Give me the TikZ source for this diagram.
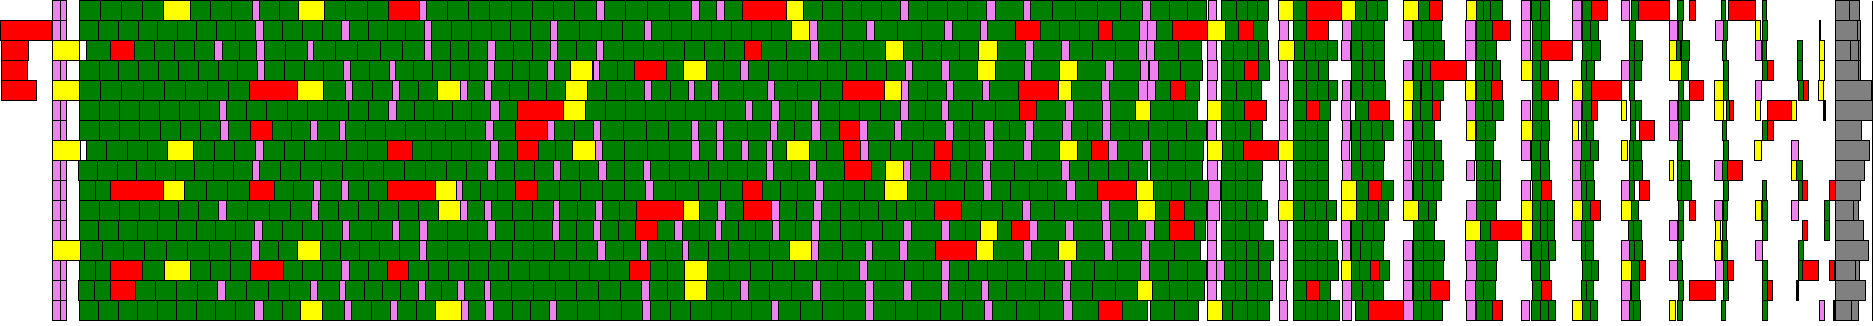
\documentclass[tikz,border=0pt]{standalone}
\usepackage{tikz}
\definecolor{gn}{HTML}{008000}
\definecolor{vi}{HTML}{EE82EE}
\definecolor{ye}{HTML}{FFFF00}
\definecolor{rd}{HTML}{FF0000}
\definecolor{gy}{HTML}{808080}
\definecolor{bk}{HTML}{000000}
\tikzset{bx/.style={draw=black,line width=0.9pt}}
\newcommand\gfill[3]{%
  \pgfmathsetmacro\gw{(#2)-(#1)}%
  \ifdim\gw pt>1.5pt
    \pgfmathtruncatemacro\gn{max(1,round(\gw/20.5))}%
    \pgfmathsetmacro\gs{\gw/\gn}%
    \foreach \k in {1,...,\gn}{%
      \path[bx,fill=gn] ({#1+(\k-1)*\gs},{20*#3+0.5}) rectangle ({#1+\k*\gs},{20*#3+20.5});
    }%
  \fi}
\newcommand\mainrow[3]{%
  \xdef\px{#2}%
  \foreach \a/\b/\c in {#3}{%
    \gfill{\px}{\a}{#1}%
    \path[bx,fill=\c] (\a,{20*#1+0.5}) rectangle (\b,{20*#1+20.5});
    \xdef\px{\b}%
  }}
\newcommand\xrow[2]{%
  \foreach \a/\b/\c in {#2}{%
    \path[bx,fill=\c] (\a,{20*#1+0.5}) rectangle (\b,{20*#1+20.5});
  }}
\begin{document}
\begin{tikzpicture}[x=1pt,y=-1pt]
\useasboundingbox (0,0) rectangle (1873,325);
% left part
\xrow{0}{52.7/60.3/vi, 60.3/66/vi}
\xrow{1}{0.7/51.7/rd, 52.7/60.3/vi, 60.3/66/vi}
\xrow{2}{1.3/28.3/rd, 52.7/79.3/ye}
\xrow{3}{1.3/27.7/rd, 52.7/60.3/vi, 60.3/66/vi}
\xrow{4}{1.3/36.3/rd, 52.7/79.3/ye}
\xrow{5}{52.7/60.3/vi, 60.3/66/vi}
\xrow{6}{52.7/60.3/vi, 60.3/66/vi}
\xrow{7}{52.7/80.3/ye}
\xrow{8}{52.7/60.3/vi, 60.3/66/vi}
\xrow{9}{52.7/60.3/vi, 60.3/66/vi}
\xrow{10}{52.7/60.3/vi, 60.3/66/vi}
\xrow{11}{52.7/60.3/vi, 60.3/66/vi}
\xrow{12}{52.7/80.3/ye}
\xrow{13}{52.7/60.3/vi, 60.3/66/vi}
\xrow{14}{52.7/60.3/vi, 60.3/66/vi}
\xrow{15}{52.7/60.3/vi, 60.3/66/vi}
% main region
\mainrow{0}{79.3}{163.7/190/ye, 252.3/259.3/vi, 298.7/324/ye, 388.7/419.3/rd, 419.3/426/vi, 596/604/vi, 691.7/699.3/vi, 716.7/724.3/vi, 742.7/786/rd, 786/803.3/ye, 900.7/908.3/vi, 986.7/995.7/vi, 1023.7/1030.3/vi, 1142.7/1150.3/vi, 1206.7/1206.7/white}
\mainrow{1}{79.3}{255.3/263.3/vi, 341.7/349.3/vi, 424.7/431.3/vi, 550.7/557.3/vi, 644.7/651.3/vi, 791.7/809.3/ye, 809.3/817.3/vi, 866.7/874/vi, 944.7/952.3/vi, 980.7/987.3/vi, 1015.7/1040.3/rd, 1098.7/1112.3/rd, 1139.7/1147.3/vi, 1147.3/1156.3/vi, 1172.7/1207.3/rd}
\mainrow{2}{86.3}{110.7/134.3/rd, 214.7/222.3/vi, 256.7/264.3/vi, 307.3/313.3/vi, 424.7/431.3/vi, 487.7/495.3/vi, 550.7/557.3/vi, 596/603.3/vi, 744.7/761.7/rd, 810.7/818.3/vi, 885.7/903.3/ye, 978.7/997.3/ye, 1025.7/1033.3/vi, 1061.7/1069.3/vi, 1138.7/1146.3/vi, 1146.3/1154.7/vi, 1201.7/1201.7/white}
\mainrow{3}{79.3}{257.7/264.3/vi, 343.7/350.3/vi, 389.3/395.3/vi, 487.7/494.3/vi, 547.7/554.3/vi, 570.7/592.3/ye, 593/599.7/vi, 634.7/666.3/rd, 683.3/706.3/ye, 740.7/748.3/vi, 905.7/912.3/vi, 941.7/949.3/vi, 977.7/995.7/ye, 1024.7/1031.3/vi, 1059.7/1077.7/ye, 1105.7/1113.3/vi, 1140.7/1148.3/vi, 1149.7/1158.7/vi, 1202.3/1202.3/white}
\mainrow{4}{79.3}{249.7/297.3/rd, 297.3/323.3/ye, 345.7/352.3/vi, 392.7/399.3/vi, 437.7/460.7/ye, 460.7/467.3/vi, 484.3/491/vi, 565/587.3/ye, 644.7/651.3/vi, 688.7/694.3/vi, 711.7/718.7/vi, 767.7/774.7/vi, 842.7/884.3/rd, 884.3/901.3/ye, 901.3/908.3/vi, 946.7/953.3/vi, 982.7/989.3/vi, 1018.7/1058.7/rd, 1058.7/1071.7/ye, 1101.7/1109.3/vi, 1138.7/1147.3/vi, 1147.3/1155.3/vi, 1170.7/1185.7/rd, 1199.3/1199.3/white}
\mainrow{5}{79.3}{219.7/226.3/vi, 388.7/396/vi, 490.7/499/vi, 517.3/563.3/rd, 563.3/585.3/ye, 745.7/752.3/vi, 771.7/779.3/vi, 811.3/818.7/vi, 900.7/908.3/vi, 941.7/948.3/vi, 1019.7/1036.3/rd, 1065.7/1073.3/vi, 1102.7/1110.3/vi, 1135.7/1150.3/ye, 1197.3/1197.3/white}
\mainrow{6}{79.3}{220.7/228.3/vi, 250.7/272.3/rd, 310.7/317.3/vi, 339.7/345.3/vi, 485.7/493.3/vi, 515.7/547.3/rd, 547.3/554.7/vi, 593.7/600.3/vi, 691.7/698.3/vi, 716.7/723.3/vi, 770.7/777.3/vi, 811.7/820/vi, 839.7/859.7/rd, 859.7/867.3/vi, 894.7/901.3/vi, 945.7/953.3/vi, 984.7/993.3/vi, 1025.7/1033.3/vi, 1062.7/1071.3/vi, 1102.7/1110.3/vi, 1206/1206/white}
\mainrow{7}{86.3}{167.7/193.3/ye, 255.7/263.3/vi, 387.7/412.3/rd, 490.7/498.3/vi, 517.3/538.3/rd, 572.7/595.7/ye, 595.7/602.3/vi, 691.7/699.3/vi, 716.7/723.3/vi, 741.7/748.3/vi, 766.7/772.3/vi, 786.7/809.3/ye, 843.7/860.7/rd, 860.7/868.3/vi, 934.7/952.3/rd, 985.7/993.3/vi, 1023.7/1031.3/vi, 1059.7/1077.7/ye, 1091.7/1108.3/rd, 1108.3/1117.3/vi, 1142.7/1150.3/vi, 1203.7/1203.7/white}
\mainrow{8}{78.3}{252.7/259.3/vi, 487.7/495.3/vi, 553.7/560.3/vi, 598.7/606/vi, 643.7/650.3/vi, 766.7/773.3/vi, 809.7/816.3/vi, 844.7/871.3/rd, 885.7/903.3/ye, 903.3/910.7/vi, 930.7/950.3/rd, 982.7/990.3/vi, 1061.7/1069.3/vi, 1147.7/1147.7/white}
\mainrow{8}{1150.3}{1202.3/1202.3/white}
\mainrow{9}{79.3}{110.7/163.3/rd, 163.3/184.3/ye, 249.7/274.3/rd, 313.3/320.3/vi, 341.7/348.3/vi, 387.7/435.7/rd, 435.7/456.3/ye, 456.3/462.3/vi, 515.7/537.3/rd, 645.7/653.3/vi, 742.7/762.3/rd, 815.7/823.3/vi, 884.7/907.3/ye, 983.7/991.3/vi, 1066.7/1075.3/vi, 1097.7/1136.7/rd, 1136.7/1153.3/ye, 1208.3/1208.3/white}
\mainrow{10}{79.3}{218.7/226.3/vi, 311.7/318.3/vi, 438.7/460.3/ye, 460.3/467/vi, 484.7/491.3/vi, 553.7/559.3/vi, 595.7/602.3/vi, 636.7/683.3/rd, 683.3/699.3/ye, 717.7/725.3/vi, 743.7/771.7/rd, 771.7/779.3/vi, 813.7/821.3/vi, 934.7/961.3/rd, 1022.7/1030.3/vi, 1101.7/1109.3/vi, 1137.7/1155.3/ye, 1169.7/1184.3/rd, 1206.3/1206.3/white}
\mainrow{11}{79.3}{254.7/262.3/vi, 342.7/349.3/vi, 392.7/399.3/vi, 419.7/427.3/vi, 487.7/495.3/vi, 552.7/559.3/vi, 593.7/600.3/vi, 635.7/657.3/rd, 674.7/682.3/vi, 715.7/721.3/vi, 772.7/779.3/vi, 811.7/819.3/vi, 903.7/911.3/vi, 941.7/949.3/vi, 980.7/997.3/ye, 1011.7/1029.3/rd, 1029.3/1037.3/vi, 1065.7/1073.3/vi, 1102.7/1110.3/vi, 1145.7/1154.3/vi, 1169.7/1194.3/rd, 1205.7/1205.7/white}
\mainrow{12}{80.7}{251.7/259.3/vi, 297.7/320.3/ye, 419.3/426.3/vi, 597.7/605.3/vi, 640.7/647.3/vi, 682.7/688.3/vi, 789.7/811.3/ye, 811.3/818.3/vi, 865.7/872.3/vi, 899.7/907.3/vi, 935.7/976.7/rd, 976.7/993.3/ye, 1023.7/1031.3/vi, 1058.7/1076.7/ye, 1104.7/1112.3/vi, 1141.7/1149.3/vi, 1200.3/1200.3/white}
\mainrow{13}{79.3}{110.7/142.7/rd, 164.7/190.3/ye, 250.7/283.3/rd, 341.7/349.3/vi, 387.7/408.3/rd, 629.7/650.3/rd, 684.7/707.3/ye, 859.7/867.3/vi, 941.7/949.3/vi, 1064.7/1071.7/vi, 1140.7/1149.3/vi, 1206.3/1206.3/white}
\mainrow{14}{78.3}{110.7/135.3/rd, 217.7/225.3/vi, 310.7/317.3/vi, 339.7/345.7/vi, 418.7/425.3/vi, 457.7/464.3/vi, 484.7/490.3/vi, 641.7/649.3/vi, 684.7/706.3/ye, 740.7/748.3/vi, 812.7/820.3/vi, 865.7/873.3/vi, 903.7/911.3/vi, 941.7/948.3/vi, 981.7/988.3/vi, 1062.7/1070.3/vi, 1137.7/1152.3/ye, 1204.3/1204.3/white}
\mainrow{15}{79.3}{254.7/263.3/vi, 300.7/322.3/ye, 344.7/351.3/vi, 390.7/397.3/vi, 435.7/461.3/ye, 461.3/468/vi, 485.7/493.3/vi, 549.7/556.3/vi, 642.7/650.3/vi, 771.7/778.3/vi, 865.7/873.3/vi, 984.7/992.3/vi, 1063.7/1072.3/vi, 1098.7/1122.3/rd, 1147.7/1147.7/white}
\mainrow{15}{1150.3}{1198.3/1198.3/white}
% right region
\xrow{0}{1208.3/1216.7/vi, 1221.7/1236/gn, 1236/1247.7/gn, 1247.7/1257.7/gn, 1257.7/1268.3/gn, 1278.7/1293.3/ye, 1293.3/1306.7/gn, 1306.7/1341.7/rd, 1341.7/1355.7/ye, 1355.7/1366.7/gn, 1366.7/1377.3/gn, 1377.3/1387.3/gn, 1403.7/1418.3/ye, 1418.3/1429.3/gn, 1429.3/1442.3/rd, 1466.7/1476/ye, 1476/1483.3/gn, 1483.3/1490.7/gn, 1490.7/1502.3/gn, 1521.7/1530.7/vi, 1531.7/1540/gn, 1540/1549/gn, 1572.7/1581.7/vi, 1582.7/1591.7/gn, 1591.7/1607.7/rd, 1621.7/1629.3/vi, 1631.3/1638.3/gn, 1638.3/1669.3/rd, 1677.3/1683.3/gn, 1689.3/1695.7/rd, 1721.3/1725.3/gn, 1728.7/1755.3/rd, 1762.3/1766.3/gn, 1835/1849.3/gy, 1849.3/1859.3/gy}
\xrow{1}{1207.3/1225.3/ye, 1225.3/1238.3/gn, 1238.3/1253.7/rd, 1253.7/1267.7/gn, 1279.3/1288.3/vi, 1293.3/1306.7/gn, 1306.7/1328.3/rd, 1342.7/1351.7/vi, 1351.7/1361.7/gn, 1361.7/1373.3/gn, 1373.3/1384.3/gn, 1403.7/1412.3/vi, 1413.3/1421.7/gn, 1421.7/1433.3/gn, 1433.3/1441.7/gn, 1465.7/1475/vi, 1476/1485.7/gn, 1485.7/1492.7/gn, 1492.7/1510.7/rd, 1521.7/1530.7/vi, 1532.7/1541/gn, 1541/1549/gn, 1572.7/1581.7/vi, 1582.7/1590.7/gn, 1590.7/1598.3/gn, 1629.3/1635.7/gn, 1669.3/1677.3/vi, 1678.3/1682.7/gn, 1715.7/1723.3/vi, 1723.3/1727.3/gn, 1755.3/1760.7/ye, 1762.3/1767.3/gn, 1819/1820.7/bk, 1835/1857.3/gy, 1857.3/1860/gy}
\xrow{2}{1207.3/1216.7/vi, 1221.7/1233.7/gn, 1233.7/1247.7/gn, 1247.7/1258.7/gn, 1258.7/1268.3/gn, 1278.7/1294.7/ye, 1294.7/1304.3/gn, 1304.3/1315.7/gn, 1315.7/1327.7/gn, 1327.7/1337.3/gn, 1341.7/1350.7/vi, 1351.7/1362.7/gn, 1362.7/1373.3/gn, 1373.3/1384.3/gn, 1413.3/1423.3/gn, 1423.3/1433.3/gn, 1433.3/1444.3/gn, 1465.7/1475/vi, 1476/1485.7/gn, 1485.7/1496.7/gn, 1521.7/1530.7/vi, 1532.7/1541.7/gn, 1541.7/1572.3/rd, 1582.7/1591.7/gn, 1591.7/1600.3/gn, 1629.3/1634.3/gn, 1634.3/1642.3/gn, 1669.3/1676.7/ye, 1676.7/1680.7/gn, 1681.7/1689.3/gn, 1722.3/1726/gn, 1755.3/1761/vi, 1762.3/1766.3/gn, 1797.3/1802.3/gn, 1819.7/1824.7/ye, 1835/1850.3/gy, 1850.3/1858.7/gy, 1858.7/1860.3/gy}
\xrow{3}{1207.3/1217.3/vi, 1221.7/1233.7/gn, 1233.7/1244.7/gn, 1244.7/1258.7/rd, 1258.7/1269.3/gn, 1279.3/1287.3/vi, 1293.3/1306.7/gn, 1306.7/1318.7/gn, 1318.7/1328.3/gn, 1351.7/1362.7/gn, 1362.7/1374.3/gn, 1374.3/1384.3/gn, 1403.7/1412.3/vi, 1413.3/1422.7/gn, 1422.7/1430.3/gn, 1430.3/1466.3/rd, 1475.3/1484.7/gn, 1484.7/1492.7/gn, 1492.7/1500/gn, 1521.7/1532.3/ye, 1532.3/1540.7/gn, 1540.7/1548.3/gn, 1581.7/1586.7/gn, 1586.7/1594.3/gn, 1621.7/1629.3/vi, 1629.3/1634.3/gn, 1634.3/1641/gn, 1669.3/1681.7/ye, 1681.7/1688.3/gn, 1723.3/1728.3/gn, 1762.3/1767.3/gn, 1767.3/1773.3/rd, 1797.3/1802.3/gn, 1819.7/1824.7/ye, 1835/1858.3/gy, 1858.3/1860/gy}
\xrow{4}{1207.3/1216.7/vi, 1221.7/1236.7/gn, 1236.7/1251.7/gn, 1251.7/1261.7/gn, 1279.3/1288.3/vi, 1293.3/1306.7/gn, 1306.7/1317.7/gn, 1317.7/1328.3/gn, 1328.3/1337.3/gn, 1342.7/1350.7/vi, 1351.7/1362.7/gn, 1362.7/1373.7/gn, 1373.7/1385.3/gn, 1403.7/1413.3/ye, 1413.3/1420.7/gn, 1421.3/1432.3/gn, 1432.3/1443.3/gn, 1465.7/1475/ye, 1476/1485.7/gn, 1485.7/1491.7/gn, 1491.7/1502.3/rd, 1532.7/1541.7/gn, 1541.7/1558.3/rd, 1572.7/1582.7/ye, 1582.7/1591.7/gn, 1591.7/1621.7/rd, 1629.3/1634.3/gn, 1678.3/1683.3/gn, 1689.3/1703.3/rd, 1714.3/1723.3/ye, 1723.3/1728.3/gn, 1755.3/1761/vi, 1798.3/1803.3/gn, 1803.3/1808.3/rd, 1818.7/1823.7/ye, 1835/1871.7/gy}
\xrow{5}{1207.3/1221.7/ye, 1221.7/1233.7/gn, 1233.7/1244.7/gn, 1244.7/1266.3/rd, 1279.3/1287.3/vi, 1293.3/1306.7/gn, 1306.7/1319.7/rd, 1319.7/1330.3/gn, 1341.7/1350.7/vi, 1355.7/1368.7/gn, 1368.7/1389.7/rd, 1403.7/1412.3/ye, 1412.3/1420.7/gn, 1420.7/1432.3/gn, 1432.3/1440.3/rd, 1466.7/1475/vi, 1475/1483.7/gn, 1483.7/1492.7/gn, 1492.7/1503.3/gn, 1521.7/1530.7/vi, 1532.7/1541.7/gn, 1541.7/1548.3/gn, 1572.7/1581.7/vi, 1582.7/1591.7/gn, 1591.7/1597.7/rd, 1621.7/1626.7/ye, 1630.7/1635/gn, 1635/1641.7/gn, 1669.3/1677.3/vi, 1678.3/1681.7/gn, 1681.7/1689.3/gn, 1714.3/1723.3/ye, 1726.7/1729/gn, 1729/1733.3/rd, 1755.3/1760.7/ye, 1767.3/1791.7/rd, 1791.7/1796.3/ye, 1823.7/1825.3/bk, 1835/1872.3/gy}
\xrow{6}{1207.3/1216.7/vi, 1221.7/1235.7/gn, 1235.7/1250.7/gn, 1250.7/1262.7/gn, 1279.3/1287.3/vi, 1293.3/1305.7/gn, 1305.7/1317.7/gn, 1317.7/1328.3/gn, 1342.7/1350.7/vi, 1351.7/1360.7/gn, 1360.7/1371.7/gn, 1371.7/1382.7/gn, 1382.7/1393.7/gn, 1403.7/1412.3/vi, 1413.3/1422.7/gn, 1422.7/1434.7/gn, 1466.7/1475/ye, 1476.7/1485.7/gn, 1485.7/1495.3/gn, 1521.7/1532.3/ye, 1532.7/1541.7/gn, 1541.7/1549/gn, 1572.7/1578.3/ye, 1581.7/1586/gn, 1586/1593.3/gn, 1630.7/1635.7/gn, 1639.3/1654.3/rd, 1669.3/1678.3/vi, 1678.3/1682.7/gn, 1722.3/1726.7/gn, 1762.3/1767.3/gn, 1767.3/1773.3/rd, 1835/1861/gy}
\xrow{7}{1207.3/1222.3/ye, 1222.3/1233.7/gn, 1233.7/1243.7/gn, 1243.7/1278.7/rd, 1278.7/1293.3/ye, 1293.3/1305.7/gn, 1305.7/1317.7/gn, 1317.7/1328.3/gn, 1341.7/1349.3/vi, 1351.7/1360.7/gn, 1360.7/1373.3/gn, 1373.3/1384.3/gn, 1403.7/1411.7/vi, 1413.3/1423.3/gn, 1423.3/1434.7/gn, 1434.7/1441.3/gn, 1475.3/1485.7/gn, 1485.7/1493.3/gn, 1521.7/1530.7/vi, 1531.7/1540.7/gn, 1540.7/1548.3/gn, 1572.7/1581.7/vi, 1581.7/1590.7/gn, 1590.7/1598.3/gn, 1621.7/1627.3/ye, 1629.3/1633.3/gn, 1633.3/1641/gn, 1677.3/1682.7/gn, 1723.3/1728.3/gn, 1754.3/1761/ye, 1791.7/1798.3/vi, 1835/1869.3/gy}
\xrow{8}{1207.3/1217.3/vi, 1221.7/1235.7/gn, 1235.7/1247.7/gn, 1247.7/1262.7/gn, 1279.3/1286.7/vi, 1293.3/1305.7/gn, 1305.7/1317.7/gn, 1317.7/1328.3/gn, 1342.7/1351.7/vi, 1351.7/1362.7/gn, 1362.7/1373.7/gn, 1373.7/1383.3/gn, 1403.7/1411.7/vi, 1413.3/1422.7/gn, 1422.7/1432.3/gn, 1432.3/1443.3/gn, 1466.7/1474.3/vi, 1476.7/1485.7/gn, 1485.7/1492.7/gn, 1492.7/1500/gn, 1531.7/1540.7/gn, 1540.7/1549/gn, 1572.7/1580/vi, 1580/1585/gn, 1585/1593.3/gn, 1629.3/1633.3/gn, 1633.3/1642.3/gn, 1669.3/1673.3/ye, 1677.3/1681.7/gn, 1681.7/1689.3/gn, 1714.3/1722.3/vi, 1722.3/1727.3/gn, 1727.3/1742.3/rd, 1791.7/1796.7/ye, 1796.7/1802.3/gn, 1835/1864.3/gy}
\xrow{9}{1208.7/1220.3/vi, 1221.7/1235.7/gn, 1235.7/1247.7/gn, 1247.7/1261.7/gn, 1279.3/1287.3/vi, 1293.3/1305.7/gn, 1305.7/1317.7/gn, 1317.7/1328.3/gn, 1341.7/1356.7/ye, 1356.7/1368.7/gn, 1368.7/1381.7/rd, 1381.7/1393.7/gn, 1403.7/1412.3/vi, 1413.3/1422.7/gn, 1422.7/1433.3/gn, 1433.3/1441.7/gn, 1476.7/1485.7/gn, 1485.7/1493.3/gn, 1493.3/1500/gn, 1521.7/1530.7/vi, 1532.7/1541.7/gn, 1541.7/1551.7/rd, 1572.7/1581.7/vi, 1581.7/1586.7/gn, 1586.7/1594.3/gn, 1621.7/1629.3/vi, 1629.3/1634.3/gn, 1639.3/1649.3/rd, 1677.3/1681.7/gn, 1681.7/1691.7/gn, 1723.3/1728.3/gn, 1762.3/1766.3/gn, 1798.3/1802.7/gn, 1802.7/1807.3/rd, 1829.3/1835/rd, 1835/1860.3/gy}
\xrow{10}{1207.3/1219.7/vi, 1221.7/1235.7/gn, 1235.7/1246.7/gn, 1246.7/1257.3/gn, 1257.3/1267.7/gn, 1278.7/1293.3/ye, 1293.3/1304.3/gn, 1304.3/1315.7/gn, 1315.7/1326.7/gn, 1326.7/1336.7/gn, 1341.7/1356.7/ye, 1356.7/1367.7/gn, 1367.7/1378.7/gn, 1378.7/1388.7/gn, 1403.7/1418.3/ye, 1418.3/1428.3/gn, 1428.3/1436.3/gn, 1466.7/1476/vi, 1476/1485.7/gn, 1485.7/1496.7/gn, 1521.7/1532.3/ye, 1532.7/1540.7/gn, 1540.7/1547.3/gn, 1547.3/1554.3/gn, 1572.7/1582.7/ye, 1582.7/1590.7/gn, 1590.7/1600.3/rd, 1621.7/1631.3/ye, 1631.3/1638.3/gn, 1678.3/1683.3/gn, 1689.3/1695.7/rd, 1714.3/1722.3/vi, 1723.3/1727.3/gn, 1755.3/1761.7/ye, 1762.3/1767.3/gn, 1791.7/1798.3/vi, 1824.7/1829.7/gn, 1835/1853.3/gy, 1853.3/1858.3/gy}
\xrow{11}{1207.3/1216.7/vi, 1221.7/1235.7/gn, 1235.7/1249.3/gn, 1249.3/1263.3/gn, 1279.3/1287.3/vi, 1293.3/1305.7/gn, 1305.7/1317.7/gn, 1317.7/1328.3/gn, 1341.7/1350.7/vi, 1351.7/1362.7/gn, 1362.7/1373.7/gn, 1373.7/1384.3/gn, 1413.3/1423.3/gn, 1423.3/1434.3/gn, 1465.7/1480.3/ye, 1480.3/1490.3/gn, 1490.3/1521.7/rd, 1521.7/1532.3/ye, 1532.3/1540.7/gn, 1540.7/1547.3/gn, 1547.3/1554.3/gn, 1572.7/1581.7/vi, 1581.7/1585.7/gn, 1585.7/1593.3/gn, 1628.3/1633.3/gn, 1633.3/1641/gn, 1669.3/1677.3/vi, 1678.3/1683.3/gn, 1715.7/1720.3/ye, 1722.3/1726/gn, 1762.3/1767.3/gn, 1802.3/1807.3/rd, 1824.7/1829.7/gn, 1835/1863.3/gy}
\xrow{12}{1207.3/1216.7/vi, 1221.7/1235.7/gn, 1235.7/1246.7/gn, 1246.7/1258.7/gn, 1258.7/1273.3/gn, 1279.3/1287.3/vi, 1293.3/1305.7/gn, 1305.7/1317.7/gn, 1317.7/1327.7/gn, 1327.7/1337.3/gn, 1342.7/1350.7/vi, 1351.7/1360.7/gn, 1360.7/1371.7/gn, 1371.7/1383.3/gn, 1403.7/1412.3/vi, 1413.3/1423.3/gn, 1423.3/1433.3/gn, 1433.3/1444.3/gn, 1465.7/1475/vi, 1475/1485/gn, 1485/1497.3/gn, 1521.7/1530.7/vi, 1531.7/1541.7/gn, 1541.7/1548.3/gn, 1548.3/1555.7/gn, 1581.7/1585.7/gn, 1585.7/1593.3/gn, 1621.7/1629.3/vi, 1629.3/1634.3/gn, 1634.3/1642.3/gn, 1677.3/1681.7/gn, 1714.3/1721.3/ye, 1722.3/1727.3/gn, 1755.3/1762.3/vi, 1798.3/1803.3/gn, 1835/1868.3/gy}
\xrow{13}{1207.3/1216.7/vi, 1216.7/1224.7/vi, 1224.7/1235.7/gn, 1235.7/1246.7/gn, 1246.7/1258.7/gn, 1258.7/1270.3/gn, 1279.3/1287.3/vi, 1293.3/1305.7/gn, 1305.7/1317.7/gn, 1317.7/1327.7/gn, 1327.7/1338.3/gn, 1341.7/1351.7/ye, 1351.7/1359.7/gn, 1359.7/1370.7/gn, 1370.7/1379.7/rd, 1379.7/1389.7/gn, 1403.7/1412.3/vi, 1413.3/1423.3/gn, 1423.3/1433.3/gn, 1433.3/1443.3/gn, 1466.7/1476/vi, 1476/1485/gn, 1485/1496.7/gn, 1531.7/1540.7/gn, 1540.7/1549/gn, 1582.7/1591.7/gn, 1591.7/1598.3/gn, 1621.7/1631.3/ye, 1631.3/1639.3/gn, 1639.3/1645.7/rd, 1669.3/1677.3/vi, 1677.3/1682.7/gn, 1715.7/1723.3/vi, 1723.3/1727.3/gn, 1727.3/1733.3/rd, 1762.3/1767.3/gn, 1798.3/1802.7/gn, 1802.7/1818.3/rd, 1829.3/1834/rd, 1835/1855.3/gy, 1855.3/1859.3/gy}
\xrow{14}{1207.3/1216.7/vi, 1221.7/1235.7/gn, 1235.7/1246.7/gn, 1246.7/1257.3/gn, 1257.3/1272.3/gn, 1279.3/1286.7/vi, 1293.3/1306.7/gn, 1306.7/1319.3/rd, 1319.3/1330.3/gn, 1342.7/1351.7/vi, 1351.7/1362.7/gn, 1362.7/1373.7/gn, 1373.7/1383.3/gn, 1403.7/1412.3/vi, 1413.3/1423.3/gn, 1423.3/1430.3/gn, 1430.3/1449.3/rd, 1465.7/1475/vi, 1475/1483.7/gn, 1483.7/1495.3/gn, 1532.7/1541.7/gn, 1541.7/1551.7/rd, 1581.7/1586.7/gn, 1586.7/1593.3/gn, 1621.7/1630/vi, 1631.7/1639.3/gn, 1678.3/1683.3/gn, 1689.3/1715.7/rd, 1723.3/1728.3/gn, 1762.3/1767.3/gn, 1767.3/1772.3/rd, 1796.7/1798.3/bk, 1835/1865.3/gy}
\xrow{15}{1207.3/1222.3/ye, 1222.3/1232.7/gn, 1232.7/1247.7/gn, 1247.7/1257.7/gn, 1257.7/1269.3/gn, 1279.3/1287.3/vi, 1293.3/1305.7/gn, 1305.7/1317.7/gn, 1317.7/1327.7/gn, 1327.7/1339.3/gn, 1342.7/1351.7/vi, 1355.7/1368.7/gn, 1368.7/1403.7/rd, 1403.7/1413.3/vi, 1413.3/1421.7/gn, 1421.7/1433.3/gn, 1433.3/1442.3/gn, 1466.7/1475/vi, 1476/1485/gn, 1485/1492.7/gn, 1492.7/1502.7/rd, 1521.7/1529.7/vi, 1531.7/1540.7/gn, 1540.7/1548.3/gn, 1548.3/1555.7/gn, 1572.7/1582.7/ye, 1582.7/1590/gn, 1590/1597.3/gn, 1621.7/1629.3/vi, 1629.3/1633.3/gn, 1633.3/1640.3/gn, 1669.3/1675.7/ye, 1677.3/1682.7/gn, 1721.3/1725.3/gn, 1762.3/1767.3/gn, 1819.3/1824.3/vi, 1833.7/1835.3/bk, 1835/1851.3/gy, 1851.3/1858.3/gy}
\coordinate (rt) at (1872,0.5);
\coordinate (rb) at (1872,320.5);
\draw[line width=1pt] (rt) -- (rb);
\end{tikzpicture}
\end{document}
